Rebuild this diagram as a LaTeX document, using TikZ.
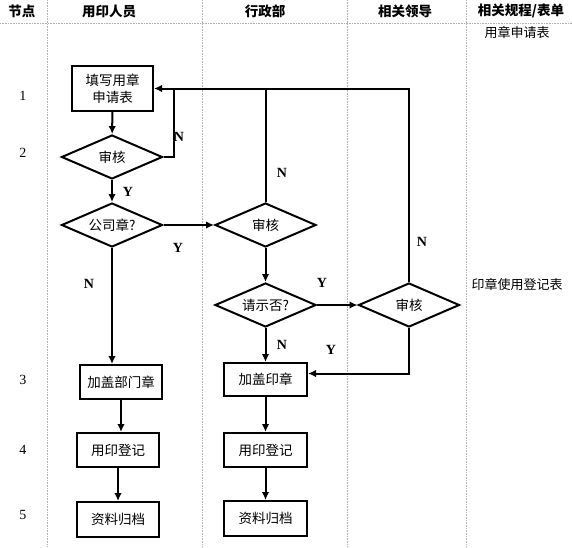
\documentclass[tikz,border=0pt]{standalone}
\usepackage{fontspec}
\setmainfont{Liberation Serif}
\newfontfamily\cjk{Noto Sans CJK SC}
\usetikzlibrary{shapes.geometric,arrows.meta}
\begin{document}
\begin{tikzpicture}[x=1pt,y=-1pt]
		\tikzset{box/.style = {shape=rectangle, draw, line width=2pt, minimum width=82pt, minimum height=34pt, inner sep=1pt, font=\cjk\fontsize{13.5}{17}\selectfont}}
		\tikzset{choice/.style = {shape=diamond, draw, line width=2pt, minimum width=101pt, minimum height=44pt, aspect=2.3, inner sep=0pt, font=\cjk\fontsize{13.5}{13.5}\selectfont}}
		\tikzset{flow/.style = {line width=2pt, -{Latex[length=8pt,width=7.5pt]}}}
		\tikzset{wire/.style = {line width=2pt}}
		\tikzset{grid/.style = {gray!60, densely dotted, line width=0.6pt}}
		\tikzset{head/.style = {font=\cjk\bfseries\fontsize{13.5}{13.5}\selectfont}}
		\tikzset{form/.style = {font=\cjk\fontsize{13}{13}\selectfont}}
		\tikzset{yn/.style = {font=\bfseries\fontsize{14}{14}\selectfont}}
		\tikzset{num/.style = {font=\fontsize{14}{14}\selectfont}}

		\useasboundingbox (0,0) rectangle (572,547);

		\draw[grid] (0,23)--(572,23);
		\draw[grid] (47,0)--(47,547);
		\draw[grid] (202,0)--(202,547);
		\draw[grid] (347,0)--(347,547);
		\draw[grid] (466,0)--(466,547);

		\node[head] (H_0) at (22,11) {节点};
		\node[head] (H_1) at (109,11) {用印人员};
		\node[head] (H_2) at (265,11) {行政部};
		\node[head] (H_3) at (405,11) {相关领导};
		\node[head] (H_4) at (521,11) {相关规程/表单};

		\node[num] (S_1) at (23,96) {1};
		\node[num] (S_2) at (23,153) {2};
		\node[num] (S_3) at (23,380) {3};
		\node[num] (S_4) at (23,450) {4};
		\node[num] (S_5) at (23,515) {5};

		\node[form] (F_1) at (517,32) {用章申请表};
		\node[form] (F_2) at (517,284) {印章使用登记表};

		\node[box, minimum width=81pt, minimum height=45pt, align=center] (apply) at (112.5,88.5) {填写用章\\申请表};
		\node[choice] (check_1) at (112,157) {审核};
		\node[choice] (company) at (112,225) {公司章?};
		\node[choice] (check_2) at (265.5,225) {审核};
		\node[choice] (report) at (265.5,305) {请示否?};
		\node[choice] (check_3) at (409,305) {审核};

		\node[box] (dept) at (121,382) {加盖部门章};
		\node[box] (log_1) at (118,450) {用印登记};
		\node[box, minimum height=35pt] (file_1) at (118,519.5) {资料归档};
		\node[box, minimum width=83pt, minimum height=33pt] (seal) at (265.5,379.5) {加盖印章};
		\node[box, minimum width=83pt] (log_2) at (265.5,450) {用印登记};
		\node[box, minimum width=83pt, minimum height=35pt] (file_2) at (265.5,518.5) {资料归档};

		\coordinate (back) at (174,89);

		\draw[flow] (apply)--(check_1);
		\draw[flow] (check_1)--(company);
		\draw[wire] (check_1.east) -| (back);
		\draw[flow] (check_3.north) |- (apply.east);
		\draw[wire] (check_2.north)--(check_2.north |- apply.east);
		\draw[flow] (company.east)--(check_2.west);
		\draw[flow] (company.south)--(company.south |- dept.north);
		\draw[flow] (check_2)--(report);
		\draw[flow] (report.east)--(check_3.west);
		\draw[flow] (report)--(seal);
		\draw[flow] (check_3.south) |- ([yshift=6pt]seal.east);
		\draw[flow] (dept.south)--(dept.south |- log_1.north);
		\draw[flow] (log_1)--(file_1);
		\draw[flow] (seal)--(log_2);
		\draw[flow] (log_2)--(file_2);

		\node[yn] (N_1) at (179,137) {N};
		\node[yn] (Y_1) at (128,192) {Y};
		\node[yn] (N_2) at (282,173) {N};
		\node[yn] (Y_2) at (178,248) {Y};
		\node[yn] (N_3) at (89,284) {N};
		\node[yn] (Y_3) at (322,283) {Y};
		\node[yn] (N_4) at (422,242) {N};
		\node[yn] (N_5) at (282,345) {N};
		\node[yn] (Y_4) at (331,350) {Y};

	\end{tikzpicture}
\end{document}
